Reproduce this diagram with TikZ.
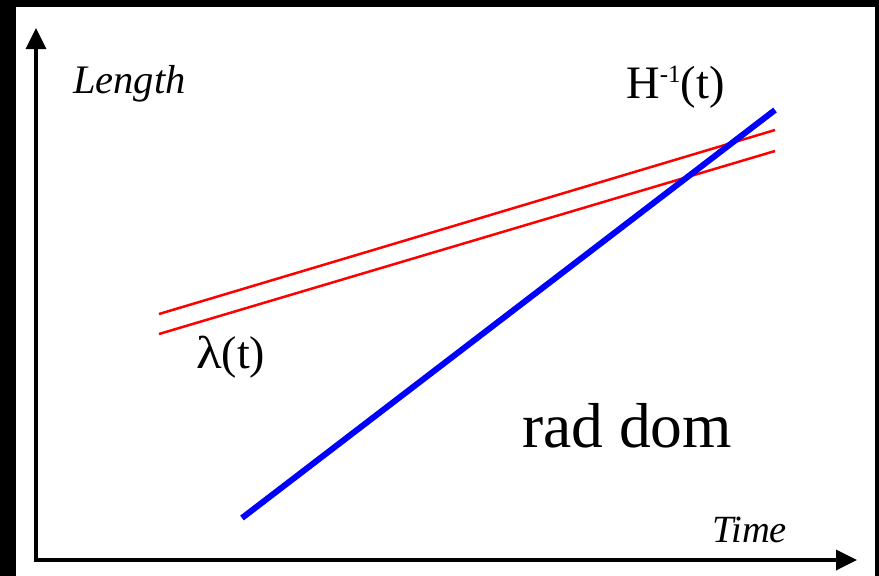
\documentclass[tikz,border=0pt]{standalone}
\usepackage{fontspec}
\setmainfont{Liberation Serif}
\usetikzlibrary{arrows.meta}
\begin{document}
\begin{tikzpicture}[x=1pt,y=-1pt,
  axis/.style={line width=3.5pt,-{Triangle[length=21pt,width=20pt]}},
  redline/.style={draw=red,line width=2.5pt},
  blueline/.style={draw=blue,line width=6pt},
  lbl/.style={inner sep=0pt,anchor=base west}]
\useasboundingbox (0,0) rectangle (879,576);
\fill[black] (0,0) rectangle (879,576);
\fill[white] (16,7) rectangle (875,576);
\coordinate (o) at (36,560);
\coordinate (ytip) at (36,28);
\coordinate (xtip) at (857,560);
\draw[axis] (o |- 0,562) -- (ytip);
\draw[axis] (34.5,560) -- (xtip);
\coordinate (r1a) at (159,314);
\coordinate (r1b) at (775,130);
\coordinate (r2a) at (159,334);
\coordinate (r2b) at (775,151);
\coordinate (ba) at (242,518);
\coordinate (bb) at (775,110);
\draw[redline] (r1a) -- (r1b);
\draw[redline] (r2a) -- (r2b);
\draw[blueline] (ba) -- (bb);
\node[lbl] (len) at (73,93) {\fontsize{40.5}{48}\selectfont\itshape Length};
\node[lbl] (time) at (712,542) {\fontsize{38.5}{46}\selectfont\itshape Time};
\node[lbl] (hinv) at (626,98) {\fontsize{46.5}{56}\selectfont H\raisebox{16pt}{\fontsize{25}{30}\selectfont -1}(t)};
\node[lbl] (lam) at (196,368) {\fontsize{46}{54}\selectfont \scalebox{1.15}[1]{λ}(t)};
\node[lbl] (rad) at (522,447) {\fontsize{63.5}{76}\selectfont rad dom};
\end{tikzpicture}
\end{document}
